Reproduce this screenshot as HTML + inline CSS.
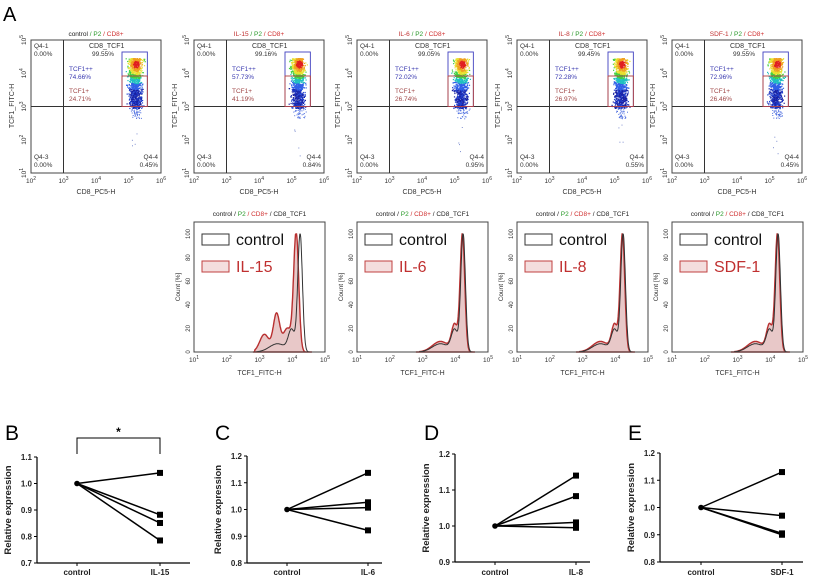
<!DOCTYPE html>
<html><head><meta charset="utf-8"><style>
html,body{margin:0;padding:0;background:#fff}
svg{display:block;font-family:"Liberation Sans",sans-serif}
</style></head><body>
<svg id="s" width="825" height="580" viewBox="0 0 825 580" xmlns="http://www.w3.org/2000/svg"></svg>
<script>
var S=document.getElementById('s'),o='';
var seed=7;function R(){seed=(seed*16807)%2147483647;return seed/2147483647;}
function G(){return (R()+R()+R()+R()-2)/1.2;}
function t(x,y,s,sz,extra){o+='<text x="'+x+'" y="'+y+'" font-size="'+sz+'" '+(extra||'')+'>'+s+'</text>';}
o+='<text x="3" y="21" font-size="20">A</text>';
var dp=[{x:31,n:'control',a:'99.55%',b:'74.66%',c:'24.71%',d:'0.45%'},
{x:194,n:'IL-15',a:'99.16%',b:'57.73%',c:'41.19%',d:'0.84%'},
{x:357,n:'IL-6',a:'99.05%',b:'72.02%',c:'26.74%',d:'0.95%'},
{x:517,n:'IL-8',a:'99.45%',b:'72.28%',c:'26.97%',d:'0.55%'},
{x:672,n:'SDF-1',a:'99.55%',b:'72.96%',c:'26.46%',d:'0.45%'}];
function sup(b,e){return b+'<tspan font-size="5" dy="-3">'+e+'</tspan>';}
dp.forEach(function(p,i){
 var x0=p.x,T=40,W=130,H=133,B=T+H;
 var tc=(i==0?'#222':'#c03030');
 o+='<text x="'+(x0+W/2)+'" y="36" font-size="6.5" text-anchor="middle"><tspan fill="'+tc+'">'+p.n+'</tspan><tspan fill="#2a9a2a"> / P2 </tspan><tspan fill="#d03030">/ CD8+</tspan></text>';
 var qx=x0+32.5,qy=B-66.5;
 var gx=x0+32.5*2.8,gw=32.5*0.78;
 var hx=gx+gw*0.55,hy=64;
 for(var k=0;k<1100;k++){
  var px=gx+2+Math.min(1,Math.max(0,0.5+G()*0.32))*(gw-4);
  var py=58+Math.pow(R(),1.15)*50;
  var ddx=(px-hx)/1.3, ddy=(py-hy)/1.6;
  var d=Math.sqrt(ddx*ddx+ddy*ddy);
  var col=d<2.5?'#e02020':d<4.5?'#f0a020':d<6.5?'#e8e030':d<9?'#40d040':d<12?'#20c0c0':d<16?'#3060e8':(R()<0.5?'#2040d0':'#1a20a0');
  o+='<rect x="'+px.toFixed(1)+'" y="'+py.toFixed(1)+'" width="1.2" height="1.2" fill="'+col+'"/>';
 }
 for(var k=0;k<40;k++){o+='<rect x="'+(hx+G()*6).toFixed(1)+'" y="'+(qy+R()*12).toFixed(1)+'" width="1" height="1" fill="#5070e0"/>';}
 for(var k=0;k<4;k++){o+='<rect x="'+(hx-5+R()*6).toFixed(1)+'" y="'+(qy+15+R()*35).toFixed(1)+'" width="1" height="1" fill="#8090d0"/>';}
 o+='<rect x="'+x0+'" y="'+T+'" width="'+W+'" height="'+H+'" fill="none" stroke="#444" stroke-width="1"/>';
 o+='<line x1="'+qx+'" y1="'+T+'" x2="'+qx+'" y2="'+B+'" stroke="#333"/><line x1="'+x0+'" y1="'+qy+'" x2="'+(x0+W)+'" y2="'+qy+'" stroke="#333"/>';
 o+='<rect x="'+gx+'" y="52" width="'+gw+'" height="'+(qy-52)+'" fill="none" stroke="#4040c0" stroke-width="0.9"/>';
 o+='<rect x="'+gx+'" y="76" width="'+gw+'" height="'+(qy-76)+'" fill="none" stroke="#b04040" stroke-width="0.9"/>';
 t(x0+3,48,'Q4-1',6.5,'fill="#333"');t(x0+3,56,'0.00%',6.5,'fill="#333"');
 t(x0+3,159,'Q4-3',6.5,'fill="#333"');t(x0+3,167,'0.00%',6.5,'fill="#333"');
 t(x0+W-3,159,'Q4-4',6.5,'fill="#333" text-anchor="end"');t(x0+W-3,167,p.d,6.5,'fill="#333" text-anchor="end"');
 t(x0+58,48,'CD8_TCF1',7,'fill="#333"');t(x0+61,56,p.a,6.5,'fill="#333"');
 t(x0+38,71,'TCF1++',6.5,'fill="#3a3ab0"');t(x0+38,79,p.b,6.5,'fill="#3a3ab0"');
 t(x0+38,93,'TCF1+',6.5,'fill="#a04848"');t(x0+38,101,p.c,6.5,'fill="#a04848"');
 for(var j=0;j<5;j++){
  o+='<text x="'+(x0+32.5*j)+'" y="183" font-size="6.5" text-anchor="middle" fill="#333">'+sup('10',j+2)+'</text>';
  var yy=B-33.25*j;
  o+='<text transform="translate('+(x0-5)+','+yy+') rotate(-90)" font-size="6.5" text-anchor="middle" fill="#333">'+sup('10',j+1)+'</text>';
 }
 t(x0+W/2,194,'CD8_PC5-H',7,'text-anchor="middle" fill="#333"');
 o+='<text transform="translate('+(x0-17)+',106) rotate(-90)" font-size="7" text-anchor="middle" fill="#333">TCF1_FITC-H</text>';
});
function gs(u,m,s){return Math.exp(-Math.pow((u-m)/s,2));}
function ctrl(u){if(u<2.9||u>4.55)return 0;var v=100*gs(u,4.24,0.1)+18*gs(u,3.98,0.14)+7*gs(u,3.55,0.35);return Math.min(v,100);}
function il15(u){if(u<2.85||u>4.45)return 0;return Math.min(100,100*gs(u,4.12,0.11)+32*gs(u,3.52,0.14)+15*gs(u,3.15,0.2)+20*gs(u,3.85,0.18));}
function sim(u){if(u<2.9||u>4.55)return 0;return Math.min(100,100*gs(u,4.22,0.1)+22*gs(u,3.98,0.13)+9*gs(u,3.55,0.35));}
var hs=[{x:194,n:'IL-15',f:il15},{x:357,n:'IL-6',f:sim},{x:517,n:'IL-8',f:sim},{x:672,n:'SDF-1',f:sim}];
hs.forEach(function(h){
 var x0=h.x,T=222,W=131,B=352;
 function X(u){return x0+(u-1)*W/4;} function Y(v){return B-v*1.18;}
 o+='<text x="'+(x0+W/2)+'" y="216" font-size="6.5" text-anchor="middle"><tspan fill="#222">control / </tspan><tspan fill="#2a9a2a">P2 </tspan><tspan fill="#d03030">/ CD8+ </tspan><tspan fill="#222">/ CD8_TCF1</tspan></text>';
 function path(f){var d='M'+X(2.8)+','+B;for(var u=2.8;u<=4.6;u+=0.01){d+=' L'+X(u).toFixed(1)+','+Y(f(u)).toFixed(1);}return d;}
 o+='<path d="'+path(h.f)+' Z" fill="#e8c8c8" stroke="#b83030" stroke-width="1.4"/>';
 o+='<path d="'+path(ctrl)+'" fill="none" stroke="#333" stroke-width="1"/>';
 o+='<rect x="'+x0+'" y="'+T+'" width="'+W+'" height="'+(B-T)+'" fill="none" stroke="#444"/>';
 o+='<rect x="'+(x0+8)+'" y="234" width="27" height="11" fill="none" stroke="#333" stroke-width="1"/>';
 o+='<rect x="'+(x0+8)+'" y="261" width="27" height="11" fill="#f4dede" stroke="#c04040" stroke-width="1"/>';
 t(x0+42,245,'control',16,'fill="#111"');t(x0+42,272,h.n,16,'fill="#c03030"');
 for(var j=0;j<=5;j++){var v=j*20;o+='<text transform="translate('+(x0-4)+','+Y(v)+') rotate(-90)" font-size="6" text-anchor="middle" fill="#333">'+v+'</text>';}
 for(var j=0;j<5;j++){o+='<text x="'+(x0+W/4*j)+'" y="362" font-size="6.5" text-anchor="middle" fill="#333">'+sup('10',j+1)+'</text>';}
 t(x0+W/2,375,'TCF1_FITC-H',7,'text-anchor="middle" fill="#333"');
 o+='<text transform="translate('+(x0-14)+',287) rotate(-90)" font-size="6.5" text-anchor="middle" fill="#333">Count [%]</text>';
});
var lp=[{L:'B',lx:5,ax:37,c:77,t:160,end:190,ymin:0.7,ymax:1.1,ytop:457,ybot:563,n:'IL-15',d:[1.04,0.882,0.851,0.785],star:1},
{L:'C',lx:215,ax:247,c:287,t:368,end:382,ymin:0.8,ymax:1.2,ytop:456,ybot:563,n:'IL-6',d:[1.137,1.027,1.007,0.922]},
{L:'D',lx:424,ax:455,c:495,t:576,end:590,ymin:0.9,ymax:1.2,ytop:454,ybot:562,n:'IL-8',d:[1.14,1.083,1.01,0.995]},
{L:'E',lx:628,ax:660,c:701,t:782,end:803,ymin:0.8,ymax:1.2,ytop:453,ybot:562,n:'SDF-1',d:[1.13,0.97,0.905,0.9]}];
lp.forEach(function(p){
 o+='<text x="'+p.lx+'" y="440" font-size="21">'+p.L+'</text>';
 function Y(v){return p.ybot-(v-p.ymin)/(p.ymax-p.ymin)*(p.ybot-p.ytop);}
 o+='<line x1="'+p.ax+'" y1="'+p.ytop+'" x2="'+p.ax+'" y2="'+p.ybot+'" stroke="#000" stroke-width="1.2"/>';
 o+='<line x1="'+p.ax+'" y1="'+p.ybot+'" x2="'+p.end+'" y2="'+p.ybot+'" stroke="#000" stroke-width="1.2"/>';
 for(var v=p.ymin;v<=p.ymax+1e-6;v+=0.1){var y=Y(v);o+='<line x1="'+(p.ax-3)+'" y1="'+y+'" x2="'+p.ax+'" y2="'+y+'" stroke="#000"/>';t(p.ax-5,y+3,v.toFixed(1),8,'text-anchor="end" font-weight="bold" fill="#222"');}
 o+='<line x1="'+p.c+'" y1="'+p.ybot+'" x2="'+p.c+'" y2="'+(p.ybot+3)+'" stroke="#000"/><line x1="'+p.t+'" y1="'+p.ybot+'" x2="'+p.t+'" y2="'+(p.ybot+3)+'" stroke="#000"/>';
 t(p.c,575,'control',8,'text-anchor="middle" font-weight="bold" fill="#222"');t(p.t,575,p.n,8,'text-anchor="middle" font-weight="bold" fill="#222"');
 o+='<text transform="translate('+(p.ax-26)+','+((p.ytop+p.ybot)/2)+') rotate(-90)" font-size="9.5" font-weight="bold" text-anchor="middle" fill="#222">Relative expression</text>';
 p.d.forEach(function(v){o+='<line x1="'+p.c+'" y1="'+Y(1)+'" x2="'+p.t+'" y2="'+Y(v)+'" stroke="#000" stroke-width="1.5"/><rect x="'+(p.t-3)+'" y="'+(Y(v)-3)+'" width="6" height="6" fill="#000"/>';});
 o+='<circle cx="'+p.c+'" cy="'+Y(1)+'" r="2.8" fill="#000"/>';
 if(p.star){o+='<path d="M'+p.c+',454 V438 H'+p.t+' V454" fill="none" stroke="#000" stroke-width="1"/>';t((p.c+p.t)/2,436,'*',12,'text-anchor="middle" font-weight="bold"');}
});
S.innerHTML=o;
</script>
</body></html>
